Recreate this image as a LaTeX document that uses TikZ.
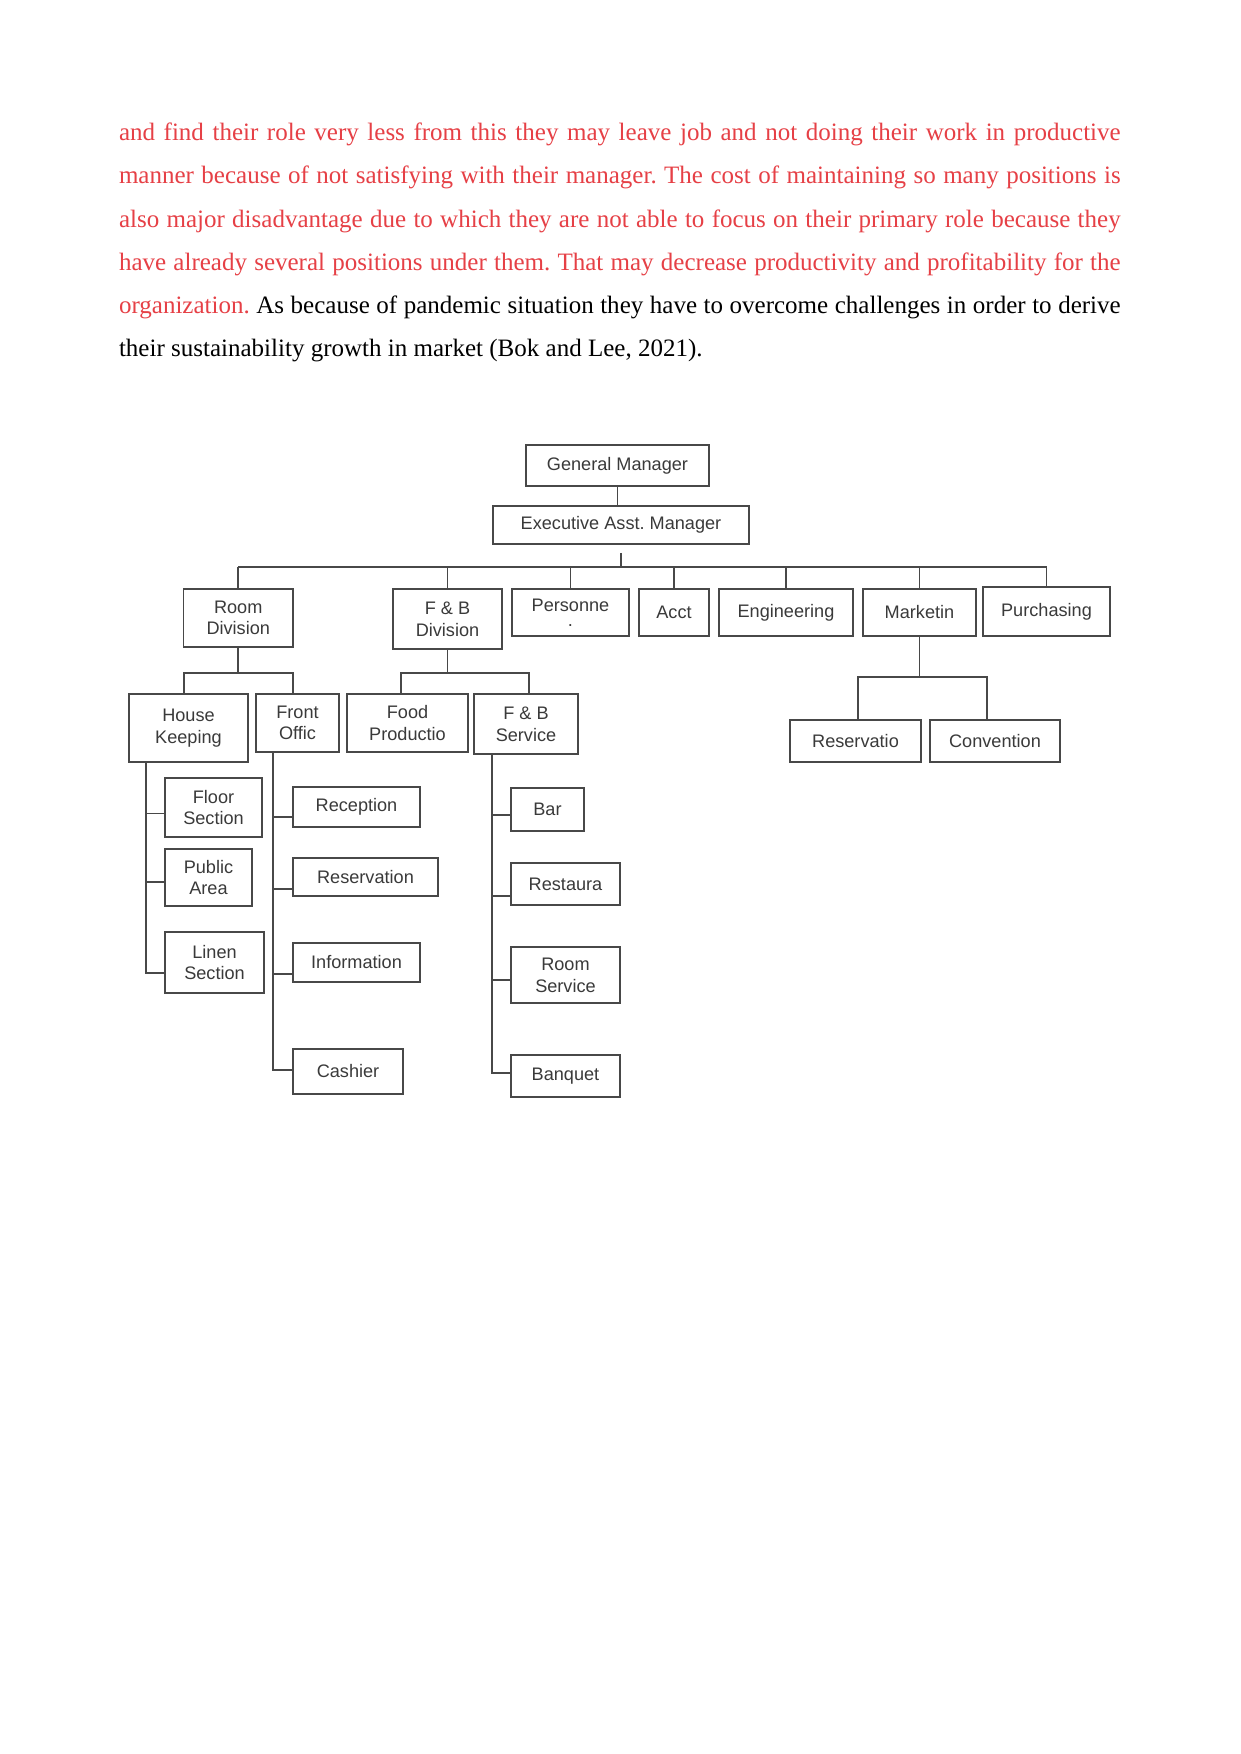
\documentclass[tikz,border=0pt]{standalone}
\usepackage{fontspec}
\setmainfont{Liberation Serif}
\newfontfamily\chartfont{Liberation Sans}
\usetikzlibrary{calc}
\frenchspacing
\definecolor{parared}{RGB}{230,64,70}
\definecolor{boxline}{RGB}{72,72,72}
\definecolor{boxtext}{RGB}{58,58,58}
\tikzset{
  orgbox/.style={draw=boxline, line width=0.9pt, fill=white, text=boxtext,
    font=\chartfont\fontsize{8.7}{10.4}\selectfont, align=center, inner sep=0pt},
  link/.style={draw=boxline, line width=0.9pt},
  paraline/.style={anchor=base west, inner sep=0pt, font=\fontsize{12}{14}\selectfont},
}
% #1 name, #2 left, #3 top, #4 right, #5 bottom (px), #6 text
\newcommand\orgnode[6]{%
  \node[orgbox, minimum width={(#4-#2)*0.4797pt}, minimum height={(#5-#3)*0.4797pt}]
    (#1) at ({(#2+#4)/2},{(#3+#5)/2}) {#6};}
\begin{document}
\begin{tikzpicture}[x=0.4797pt, y=-0.4797pt]
\useasboundingbox[fill=white] (0,0) rectangle (1241,1754);

% paragraph
\node[paraline, text=parared] (p1) at (118.6,140.7) {\makebox[480.5pt][s]{and find their role very less from this they may leave job and not doing their work in productive}};
\node[paraline, text=parared] (p2) at (118.6,183.9) {\makebox[480.5pt][s]{manner because of not satisfying with their manager. The cost of maintaining so many positions is}};
\node[paraline, text=parared] (p3) at (118.6,227.1) {\makebox[480.5pt][s]{also major disadvantage due to which they are not able to focus on their primary role because they}};
\node[paraline, text=parared] (p4) at (118.6,270.3) {\makebox[480.5pt][s]{have already several positions under them. That may decrease productivity and profitability for the}};
\node[paraline] (p5) at (118.6,313.5) {\makebox[480.5pt][s]{\textcolor{parared}{organization.} As because of pandemic situation they have to overcome challenges in order to derive}};
\node[paraline] (p6) at (118.6,356.7) {their sustainability growth in market (Bok and Lee, 2021).};

% boxes
\orgnode{GM}{526}{445}{709}{486}{General Manager}
\orgnode{Exec}{493}{506}{749}{544}{Executive Asst. Manager}
\orgnode{RD}{183.5}{589}{293}{647}{Room\\Division}
\orgnode{FBD}{393}{589}{502}{649}{F \& B\\Division}
\orgnode{Pers}{512}{589}{629}{636}{Personne\\[-3pt].}
\orgnode{Acct}{639}{589}{709}{636}{Acct}
\orgnode{Eng}{719}{589}{853}{636}{Engineering}
\orgnode{Mkt}{863}{589}{976}{636}{Marketin}
\orgnode{Purch}{983}{587}{1110}{636}{Purchasing}
\orgnode{HK}{129}{694}{248}{762}{House\\Keeping}
\orgnode{FO}{256}{694}{339}{752}{Front\\Offic}
\orgnode{FP}{347}{694}{468}{752}{Food\\Productio}
\orgnode{FBS}{474}{694}{578}{754}{F \& B\\Service}
\orgnode{Resv}{790}{720}{921}{762}{Reservatio}
\orgnode{Conv}{930}{720}{1060}{762}{Convention}
\orgnode{Floor}{165}{778}{262}{837}{Floor\\Section}
\orgnode{Public}{165}{849}{252}{906}{Public\\Area}
\orgnode{Linen}{165}{932}{264}{993}{Linen\\Section}
\orgnode{Recep}{293}{787}{420}{827}{Reception}
\orgnode{Reserv}{293}{858}{438}{896}{Reservation}
\orgnode{Info}{293}{943}{420}{982}{Information}
\orgnode{Cash}{293}{1049}{403}{1094}{Cashier}
\orgnode{Bar}{511}{788}{584}{831}{Bar}
\orgnode{Rest}{511}{863}{620}{905}{Restaura}
\orgnode{RmS}{511}{947}{620}{1003}{Room\\Service}
\orgnode{Banq}{511}{1055}{620}{1097}{Banquet}

% top connectors
\draw[link] (GM.south) -- (GM.south |- Exec.north);
\coordinate (busy) at (0,567);
\coordinate (eaTop) at ($(Exec.south)+(0,8)$);
\draw[link] (eaTop) -- (eaTop |- busy);
\draw[link] (RD.north |- busy) -- (Purch.north |- busy);
\foreach \n in {RD,FBD,Pers,Acct,Eng,Mkt,Purch}
  \draw[link] (\n.north) -- (\n.north |- busy);

% Room Division split
\coordinate (suby) at (0,673);
\draw[link] (RD.south) -- (RD.south |- suby);
\coordinate (hkN) at ($(HK.north)+(-4.5,0)$);
\coordinate (foN) at ($(FO.north)+(-4.5,0)$);
\draw[link] (hkN) -- (hkN |- suby) -- (foN |- suby) -- (foN);

% F&B Division split
\draw[link] (FBD.south) -- (FBD.south |- suby);
\coordinate (fpN) at ($(FP.north)+(-6.5,0)$);
\coordinate (fbsN) at ($(FBS.north)+(3,0)$);
\draw[link] (fpN) -- (fpN |- suby) -- (fbsN |- suby) -- (fbsN);

% Marketing split
\coordinate (mky) at (0,677);
\draw[link] (Mkt.south) -- (Mkt.south |- mky);
\coordinate (rvN) at ($(Resv.north)+(2.5,0)$);
\coordinate (cvN) at ($(Conv.north)+(-8,0)$);
\draw[link] (rvN) -- (rvN |- mky) -- (cvN |- mky) -- (cvN);

% House Keeping trunk
\coordinate (hkt) at ($(HK.south west)+(18,0)$);
\coordinate (tFl) at ($(Floor.west)+(0,6)$);
\coordinate (tPa) at ($(Public.west)+(0,4.5)$);
\coordinate (tLi) at ($(Linen.west)+(0,10.5)$);
\draw[link] (hkt) -- (hkt |- tLi) -- (tLi);
\draw[link] (tFl -| hkt) -- (tFl);
\draw[link] (tPa -| hkt) -- (tPa);

% Front Office trunk
\coordinate (fot) at ($(FO.south west)+(18,0)$);
\coordinate (tRc) at ($(Recep.west)+(0,10)$);
\coordinate (tRs) at ($(Reserv.west)+(0,12)$);
\coordinate (tIn) at ($(Info.west)+(0,11.5)$);
\coordinate (tCa) at ($(Cash.west)+(0,-1.5)$);
\draw[link] (fot) -- (fot |- tCa) -- (tCa);
\draw[link] (tRc -| fot) -- (tRc);
\draw[link] (tRs -| fot) -- (tRs);
\draw[link] (tIn -| fot) -- (tIn);

% F&B Service trunk
\coordinate (fbt) at ($(FBS.south west)+(19,0)$);
\coordinate (tBa) at ($(Bar.west)+(0,5.5)$);
\coordinate (tRe) at ($(Rest.west)+(0,12)$);
\coordinate (tRm) at ($(RmS.west)+(0,5)$);
\coordinate (tBq) at ($(Banq.west)+(0,-3)$);
\draw[link] (fbt) -- (fbt |- tBq) -- (tBq);
\draw[link] (tBa -| fbt) -- (tBa);
\draw[link] (tRe -| fbt) -- (tRe);
\draw[link] (tRm -| fbt) -- (tRm);
\end{tikzpicture}
\end{document}
